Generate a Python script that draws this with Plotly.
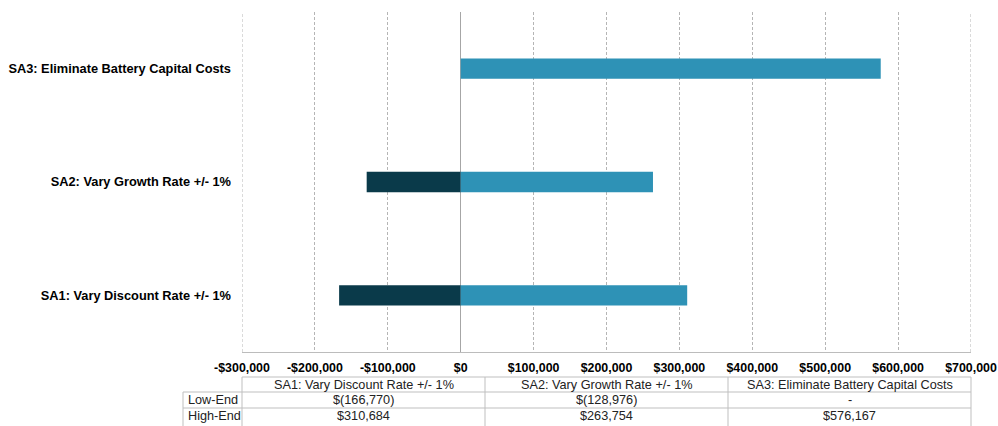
import plotly.graph_objects as go

# Sensitivity analysis scenarios and their NPV impacts (USD)
scenarios = [
    "SA1: Vary Discount Rate +/- 1%",
    "SA2: Vary Growth Rate +/- 1%",
    "SA3: Eliminate Battery Capital Costs",
]
low_end = [-166770, -128976, None]
high_end = [310684, 263754, 576167]
series_names = ["Low-End", "High-End"]

tick_values = [-300000, -200000, -100000, 0, 100000, 200000, 300000, 400000, 500000, 600000, 700000]
tick_labels = ["-$300,000", "-$200,000", "-$100,000", "$0", "$100,000", "$200,000",
               "$300,000", "$400,000", "$500,000", "$600,000", "$700,000"]

DARK = "#0a3a4a"
LIGHT = "#2e92b6"
GRID = "#b5b5b5"
BORDER = "#bfbfbf"
FONT = "Liberation Sans, Arial, sans-serif"


def money(v):
    if v is None:
        return "-"
    if v < 0:
        return "$({:,})".format(-v)
    return "${:,}".format(v)


fig = go.Figure()
fig.add_trace(go.Bar(
    y=scenarios, x=[v if v is not None else 0 for v in low_end], name=series_names[0],
    orientation="h", marker=dict(color=DARK, line=dict(width=0)), width=0.18,
))
fig.add_trace(go.Bar(
    y=scenarios, x=high_end, name=series_names[1],
    orientation="h", marker=dict(color=LIGHT, line=dict(width=0)), width=0.18,
))

fig.update_layout(
    width=998, height=426,
    margin=dict(l=242, r=27, t=12, b=74, autoexpand=False),
    barmode="relative",
    showlegend=False,
    plot_bgcolor="white",
    paper_bgcolor="white",
    font=dict(family=FONT, size=12, color="#000000"),
)

fig.update_xaxes(
    range=[-300000, 700000],
    tickvals=tick_values, ticktext=tick_labels,
    tickfont=dict(family=FONT, size=12.4, color="#000000", weight="bold"),
    showgrid=True, gridcolor=GRID, griddash="3px,2px", gridwidth=1,
    zeroline=True, zerolinecolor="#a6a6a6", zerolinewidth=1,
    showline=True, linecolor="#bcbcbc", linewidth=1,
    ticks="", ticklabelstandoff=4, automargin=False,
)
fig.update_yaxes(
    type="category", categoryorder="array", categoryarray=scenarios,
    range=[-0.5, 2.5],
    tickfont=dict(family=FONT, size=12.8, color="#000000", weight="bold"),
    showgrid=False, zeroline=False, showline=False,
    ticks="", ticklabelstandoff=10, automargin=False,
)

# Data table under the axis
def ypx(px):
    return (352 - px) / 340.0

x_edges = [-59 / 729.0, 0.0, 1 / 3.0, 2 / 3.0, 1.0]
row_top = ypx(377)
row_mid1 = ypx(392)
row_mid2 = ypx(408)
row_bot = ypx(430)

shapes = []
# dashed gridlines at the two ends of the value range
for xv in (tick_values[0], tick_values[-1]):
    shapes.append(dict(type="line", xref="x", yref="y domain", x0=xv, x1=xv, y0=0, y1=1,
                       line=dict(color=GRID, width=1, dash="3px,2px")))
line = dict(color=BORDER, width=1)
# horizontal rules
shapes.append(dict(type="line", xref="x domain", yref="y domain", x0=0, x1=1, y0=row_top, y1=row_top, line=line))
for yy in (row_mid1, row_mid2):
    shapes.append(dict(type="line", xref="x domain", yref="y domain", x0=x_edges[0], x1=1, y0=yy, y1=yy, line=line))
# vertical rules
shapes.append(dict(type="line", xref="x domain", yref="y domain", x0=x_edges[0], x1=x_edges[0], y0=row_mid1, y1=row_bot, line=line))
for xx in x_edges[1:]:
    shapes.append(dict(type="line", xref="x domain", yref="y domain", x0=xx, x1=xx, y0=row_top, y1=row_bot, line=line))
fig.update_layout(shapes=shapes)

cell_font = dict(family=FONT, size=12.7, color="#222222")
centers_y = [ypx((377 + 392) / 2), ypx((392 + 408) / 2), ypx((408 + 424) / 2)]
annotations = []
for i, name in enumerate(scenarios):
    cx = (x_edges[i + 1] + x_edges[i + 2]) / 2
    annotations.append(dict(xref="x domain", yref="y domain", x=cx, y=centers_y[0], text=name,
                            showarrow=False, font=cell_font, xanchor="center", yanchor="middle"))
    annotations.append(dict(xref="x domain", yref="y domain", x=cx, y=centers_y[1], text=money(low_end[i]),
                            showarrow=False, font=cell_font, xanchor="center", yanchor="middle"))
    annotations.append(dict(xref="x domain", yref="y domain", x=cx, y=centers_y[2], text=money(high_end[i]),
                            showarrow=False, font=cell_font, xanchor="center", yanchor="middle"))
for j, nm in enumerate(series_names):
    annotations.append(dict(xref="x domain", yref="y domain", x=x_edges[0] + 3 / 729.0, y=centers_y[j + 1],
                            text=nm, showarrow=False, font=cell_font, xanchor="left", yanchor="middle"))
fig.update_layout(annotations=annotations)

fig.write_html("out.html")
